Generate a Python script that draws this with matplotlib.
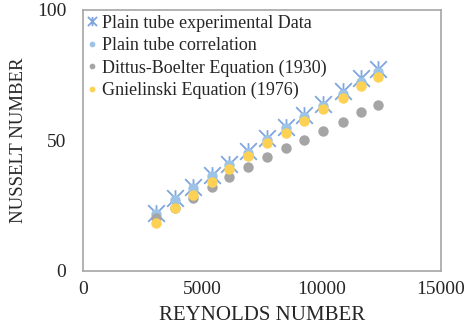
import matplotlib
matplotlib.use('Agg')
import matplotlib.pyplot as plt
from matplotlib.path import Path

reynolds = [3050, 3850, 4600, 5390, 6130, 6930, 7720, 8500, 9270, 10070, 10880, 11650, 12380]
nu_experimental = [22.1, 27.9, 32.3, 36.8, 41.0, 45.8, 50.8, 55.3, 59.8, 64.0, 69.0, 74.0, 77.5]
nu_correlation = [22.0, 27.3, 31.8, 36.3, 40.8, 45.3, 50.0, 54.6, 59.0, 63.4, 67.8, 72.4, 76.4]
nu_dittus = [20.2, 24.3, 27.8, 32.0, 36.0, 39.7, 43.6, 47.0, 50.2, 53.6, 57.0, 61.0, 63.6]
nu_gnielinski = [18.3, 24.2, 29.0, 34.0, 39.0, 44.1, 48.9, 53.0, 57.5, 62.0, 66.2, 71.0, 74.2]

labels = ['Plain tube experimental Data', 'Plain tube correlation',
          'Dittus-Boelter Equation (1930)', 'Gnielinski Equation (1976)']

# excel style "star" marker: an x with a vertical bar through it
star = Path([(-1, -1), (1, 1), (-1, 1), (1, -1), (0, -1), (0, 1)],
            [Path.MOVETO, Path.LINETO, Path.MOVETO, Path.LINETO, Path.MOVETO, Path.LINETO])

plt.rcParams['font.family'] = ['Liberation Serif', 'DejaVu Serif']
plt.rcParams['text.color'] = '#262626'
plt.rcParams['axes.labelcolor'] = '#262626'

fig = plt.figure(figsize=(4.73, 3.31), dpi=100)
ax = fig.add_axes([0.1755, 0.1813, 0.7568, 0.7885])

ax.plot(reynolds, nu_experimental, linestyle='none', marker=star, markersize=12,
        markeredgewidth=1.3, color='#7ea6e0', label=labels[0])
ax.plot(reynolds, nu_correlation, linestyle='none', marker='o', markersize=7.5,
        markeredgewidth=0, color='#9dc3e6', label=labels[1])
ax.plot(reynolds, nu_dittus, linestyle='none', marker='o', markersize=7.5,
        markeredgewidth=0, color='#a5a5a5', label=labels[2])
ax.plot(reynolds, nu_gnielinski, linestyle='none', marker='o', markersize=7.5,
        markeredgewidth=0, color='#fdd154', label=labels[3])

ax.set_xlim(0, 15000)
ax.set_ylim(0, 100)
ax.set_xticks([0, 5000, 10000, 15000])
ax.set_yticks([0, 50, 100])
ax.tick_params(length=0, labelsize=14, pad=7, labelcolor='#262626')
ax.tick_params(axis='y', pad=12)
for s in ax.spines.values():
    s.set_color('#a6a6a6')
    s.set_linewidth(1.2)

ax.set_xlabel('REYNOLDS NUMBER', fontsize=15, labelpad=6)
ax.set_ylabel('NUSSELT NUMBER', fontsize=13.5, labelpad=7)

ax.legend(loc='upper left', frameon=False, fontsize=13, markerscale=0.55,
          handlelength=0.5, handletextpad=0.3, borderaxespad=0.05,
          labelspacing=0.3, borderpad=0.2)

fig.savefig('out.png', dpi=100)
